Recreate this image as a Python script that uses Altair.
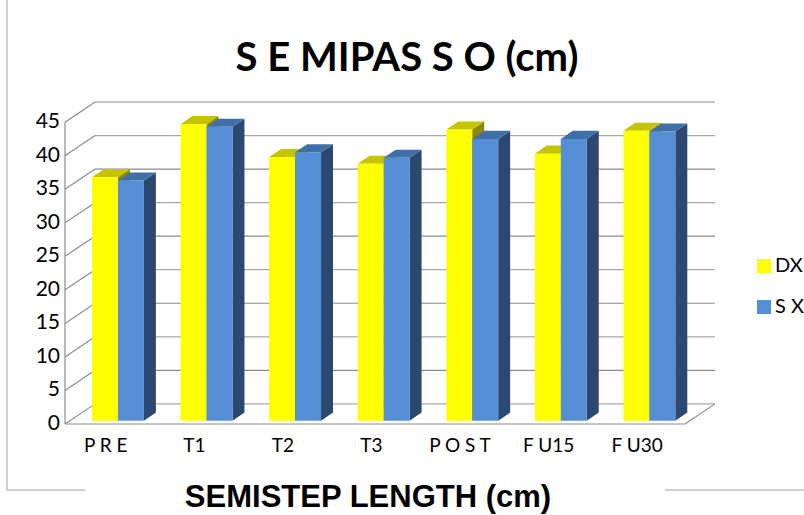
import altair as alt
import pandas as pd

# ---- data ----
categories = ["P R E", "T1", "T2", "T3", "P O S T", "F U15", "F U30"]
series = ["DX", "S X"]
dx_values = [36.3, 44.2, 39.3, 38.3, 43.4, 39.8, 43.2]
sx_values = [35.8, 43.8, 40.0, 39.2, 42.0, 42.0, 43.1]
y_ticks = [0, 5, 10, 15, 20, 25, 30, 35, 40, 45]
title_text = "S E MIPAS S O (cm)"
x_title_text = "SEMISTEP LENGTH (cm)"

# ---- style / geometry ----
W, H = 804, 515
X0, Y0 = 65, 424          # pixel of the front origin
PX, PY = 88.57, 6.708     # pixels per category band / per value unit
N = len(categories)
WALL_DX = 0.339
WALL_DY = 3.0
BAR_START = 0.305
BAR_W = 0.293
BAR_DX = 0.135
BAR_DY = 1.2
BASE = 0.5
front_col = {"DX": "#FFFF00", "S X": "#558ED5"}
top_col = {"DX": "#C6C300", "S X": "#4170A8"}
side_col = {"DX": "#8A8A00", "S X": "#2C4770"}

xs = alt.Scale(domain=[-X0 / PX, (W - X0) / PX], nice=False, zero=False)
ys = alt.Scale(domain=[-(H - Y0) / PY, Y0 / PY], nice=False, zero=False)

front_rows, top_rows, side_rows = [], [], []
for si, (s, vals) in enumerate(zip(series, [dx_values, sx_values])):
    for i, v in enumerate(vals):
        xl = i + BAR_START + si * BAR_W
        xr = xl + BAR_W
        key = f"{s}-{i}"
        front_rows.append(dict(series=s, cat=categories[i], value=v, x=xl, x2=xr, y=BASE, y2=BASE + v))
        top_rows.append(dict(series=s, key=key, y=BASE + v, x=xl, x2=xr))
        top_rows.append(dict(series=s, key=key, y=BASE + v + BAR_DY, x=xl + BAR_DX, x2=xr + BAR_DX))
        side_rows.append(dict(series=s, key=key, x=xr, y=BASE + v, y2=BASE))
        side_rows.append(dict(series=s, key=key, x=xr + BAR_DX, y=BASE + v + BAR_DY, y2=BASE + BAR_DY))
front_df = pd.DataFrame(front_rows)
top_df = pd.DataFrame(top_rows)
side_df = pd.DataFrame(side_rows)

grid_rows = []
for k, t in enumerate(y_ticks):
    col = "#8C8C8C" if k % 2 else "#A8A8A8"
    grid_rows.append(dict(x=WALL_DX, x2=N + WALL_DX, y=t + WALL_DY, y2=t + WALL_DY, c=col))
    grid_rows.append(dict(x=0, x2=WALL_DX, y=t, y2=t + WALL_DY, c="#8C8C8C"))
grid_rows.append(dict(x=0, x2=0, y=0, y2=y_ticks[-1], c="#8C8C8C"))
grid_rows.append(dict(x=0, x2=N, y=0, y2=0, c="#8C8C8C"))
grid_rows.append(dict(x=N, x2=N + WALL_DX, y=0, y2=WALL_DY, c="#8C8C8C"))
grid_df = pd.DataFrame(grid_rows)

grid = alt.Chart(grid_df).mark_rule(strokeWidth=1.2).encode(
    x=alt.X("x:Q", scale=xs, axis=None), x2="x2:Q",
    y=alt.Y("y:Q", scale=ys, axis=None), y2="y2:Q",
    color=alt.Color("c:N", scale=None, legend=None),
)

layers = [grid]
for s in series:
    side = alt.Chart(side_df[side_df.series == s]).mark_area(color=side_col[s]).encode(
        x=alt.X("x:Q", scale=xs, axis=None), y=alt.Y("y:Q", scale=ys, axis=None), y2="y2:Q",
        detail="key:N")
    top = alt.Chart(top_df[top_df.series == s]).mark_area(orient="horizontal", color=top_col[s]).encode(
        y=alt.Y("y:Q", scale=ys, axis=None), x=alt.X("x:Q", scale=xs, axis=None), x2="x2:Q",
        detail="key:N")
    front = alt.Chart(front_df[front_df.series == s]).mark_rect(color=front_col[s]).encode(
        x=alt.X("x:Q", scale=xs, axis=None), x2="x2:Q",
        y=alt.Y("y:Q", scale=ys, axis=None), y2="y2:Q",
        tooltip=["cat:N", "series:N", "value:Q"])
    layers += [side, top, front]

# tick labels
ylab_df = pd.DataFrame({"t": y_ticks})
ylabels = alt.Chart(ylab_df).mark_text(align="right", baseline="middle", font="Lato",
                                       fontSize=21, color="black").encode(
    x=alt.value(X0 - 5), y=alt.Y("t:Q", scale=ys, axis=None), text="t:Q")
xlab_df = pd.DataFrame({"cat": categories, "pos": [i + 0.46 for i in range(N)]})
xlabels = alt.Chart(xlab_df).mark_text(align="center", baseline="alphabetic", font="Lato",
                                       fontSize=19, color="black").encode(
    x=alt.X("pos:Q", scale=xs, axis=None), y=alt.value(452), text="cat:N")

# legend (drawn by hand)
one = pd.DataFrame({"k": [0]})
legend = []
for j, s in enumerate(series):
    ly = 266 + j * 41
    legend.append(alt.Chart(one).mark_square(size=196, filled=True, color=front_col[s], opacity=1).encode(
        x=alt.value(764), y=alt.value(ly)))
    legend.append(alt.Chart(one).mark_text(text=s, font="Lato", fontSize=20, color="black",
                                           align="left", baseline="middle").encode(
        x=alt.value(775), y=alt.value(ly)))

# titles
title = alt.Chart(one).mark_text(text=title_text, font="Lato", fontSize=40, fontWeight="bold",
                                 color="black", align="center", baseline="alphabetic").encode(
    x=alt.value(407), y=alt.value(71))
x_title = alt.Chart(one).mark_text(text=x_title_text, font="Liberation Sans", fontSize=31,
                                   fontWeight="bold", color="black", align="center",
                                   baseline="alphabetic").encode(
    x=alt.value(368), y=alt.value(507))

# outer chart border (partially hidden by the bottom title)
border_col = "#A0A0A0"
border = [
    alt.Chart(one).mark_rule(color=border_col).encode(x=alt.value(7), y=alt.value(0), y2=alt.value(490)),
    alt.Chart(one).mark_rule(color=border_col).encode(x=alt.value(7), x2=alt.value(85), y=alt.value(490)),
    alt.Chart(one).mark_rule(color=border_col).encode(x=alt.value(665), x2=alt.value(804), y=alt.value(490)),
]

chart = alt.layer(*layers, ylabels, xlabels, *legend, title, x_title, *border).properties(
    width=W, height=H,
    autosize=alt.AutoSizeParams(type="none"),
    padding=0,
    background="white",
).configure_view(stroke=None)

chart.save("out.html", embed_options={"renderer": "svg", "actions": False})
